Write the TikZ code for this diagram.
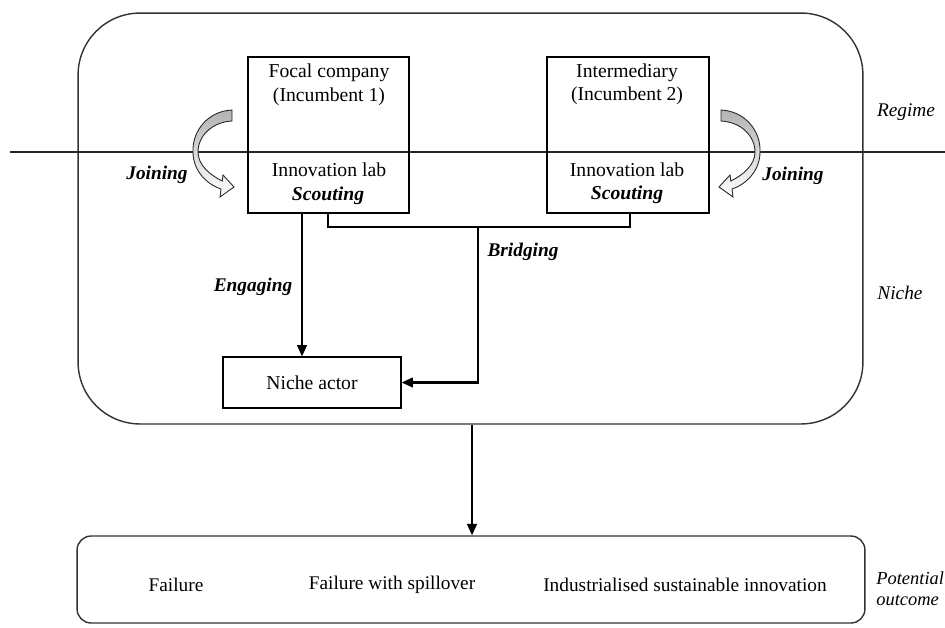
\documentclass[tikz,border=0pt]{standalone}
\usepackage{fontspec}
\setmainfont{Liberation Serif}
\usetikzlibrary{arrows.meta}
\newcommand{\JoinShape}{%
  \shadedraw[bendarrow] (232,110) .. controls (208,111) and (192,131) .. (193,152)
    .. controls (193,170) and (206,184) .. (221,189)
    -- (220,197) -- (234,187) -- (223,175) -- (222.2,181)
    .. controls (210,175) and (198,165) .. (198,152)
    .. controls (198,136) and (212,122) .. (232,121) -- cycle;}
\begin{document}
\begin{tikzpicture}[x=0.02cm,y=-0.02cm,
  font=\fontsize{11}{13}\selectfont,
  box/.style={draw=black, line width=0.65pt, inner sep=0pt},
  rbox/.style={draw=black!80, line width=0.8pt, inner sep=0pt},
  conn/.style={line width=1.35pt, draw=black},
  tip/.style={-{Triangle[length=6.5pt,width=5.5pt]}},
  txt/.style={inner sep=0pt, font=\fontsize{11.2}{13}\selectfont},
  lbl/.style={inner sep=0pt, font=\fontsize{11}{13}\selectfont\bfseries\itshape},
  ilbl/.style={inner sep=0pt, font=\fontsize{11}{13}\selectfont\itshape},
  bendarrow/.style={draw=black!85, line width=0.5pt, top color=gray!60, middle color=white, bottom color=white}
]
\useasboundingbox (0,0) rectangle (945,627);

% containers
\node[rbox, rounded corners=1.24cm, minimum width=15.7cm, minimum height=8.22cm] (system) at (470.5,218.5) {};
\node[rbox, rounded corners=0.28cm, minimum width=15.76cm, minimum height=1.74cm] (outcome) at (471,579.5) {};

% regime / niche boundary
\coordinate (lineL) at (10,152);
\coordinate (lineR) at (945,152);
\draw[line width=0.6pt, black!85] (lineL) -- (lineR);

% boxes
\node[box, minimum width=3.22cm, minimum height=3.12cm] (focal) at (328.5,135) {};
\node[box, minimum width=3.24cm, minimum height=3.12cm] (inter) at (628,135) {};
\node[box, txt, minimum width=3.56cm, minimum height=1.02cm] (niche) at (312,382.5) {Niche actor};

% box texts
\node[txt] (f1) at (329,73) {Focal company};
\node[txt] (f2) at (329,97) {(Incumbent 1)};
\node[txt] (f3) at (329,170) {Innovation lab};
\node[lbl, font=\fontsize{11.2}{13}\selectfont\bfseries\itshape] (f4) at (328,196) {Scouting};
\node[txt] (i1) at (627,73) {Intermediary};
\node[txt] (i2) at (627,96) {(Incumbent 2)};
\node[txt] (i3) at (627,170) {Innovation lab};
\node[lbl, font=\fontsize{11.2}{13}\selectfont\bfseries\itshape] (i4) at (627,195) {Scouting};

% joining arrows
\JoinShape
\begin{scope}[shift={(953,0)}, xscale=-1]
\JoinShape
\end{scope}

% connectors
\coordinate (ex) at (302,0);
\draw[conn, tip] (focal.south -| ex) -- (niche.north -| ex);
\coordinate (bl) at (328,227);
\coordinate (br) at (630,227);
\coordinate (bj) at (478,227);
\draw[conn] (focal.south -| bl) -- (bl) -- (br) -- (inter.south -| br);
\draw[conn, tip] (bj) |- (niche.east);
\coordinate (ax) at (472,0);
\draw[conn, tip] (system.south -| ax) -- (outcome.north -| ax);

% labels
\node[lbl] (joinL) at (157,175) {Joining};
\node[lbl] (joinR) at (793,176) {Joining};
\node[lbl] (eng) at (253,287) {Engaging};
\node[lbl] (bri) at (523,252) {Bridging};
\node[ilbl] (reg) at (906,112) {Regime};
\node[ilbl] (nic) at (900,293) {Niche};
\node[ilbl, anchor=west, font=\fontsize{10.5}{12}\selectfont\itshape] (pot) at (876,578) {Potential};
\node[ilbl, anchor=west, font=\fontsize{10.5}{12}\selectfont\itshape] (outc) at (876,600) {outcome};

% outcomes
\node[txt, font=\fontsize{11}{13}\selectfont] (o1) at (176,585) {Failure};
\node[txt, font=\fontsize{11}{13}\selectfont] (o2) at (392,585) {Failure with spillover};
\node[txt, font=\fontsize{11}{13}\selectfont] (o3) at (685,585) {Industrialised sustainable innovation};
\end{tikzpicture}
\end{document}
